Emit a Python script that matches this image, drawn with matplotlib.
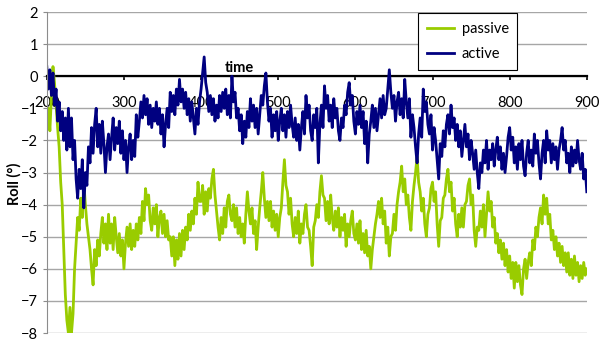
#!/usr/bin/env python3
# -*- coding: utf-8 -*-
"""
Roll angle over time for the passive and active runs.
"""

import matplotlib
matplotlib.use('Agg')
import matplotlib.pyplot as PyPlot

# Sample times, one every 2 units
time = list(range(200, 901, 2))

passive = [
    -1.5, -1.0, -1.7, -0.6, 0.3, -0.2, -0.9, -1.6, -2.2, -3.3, -4.0, -5.4, -6.8, -7.6, -8.0, -7.2, -8.0, -7.4, -6.0, -5.2,
    -4.4, -4.8, -3.8, -4.4, -3.3, -4.0, -4.6, -5.0, -5.4, -6.0, -6.5, -5.4, -5.9, -5.1, -5.6, -4.9, -4.4, -5.2, -4.6, -5.4,
    -4.3, -5.2, -4.6, -5.4, -4.4, -5.0, -5.5, -4.9, -5.6, -5.1, -6.0, -5.2, -4.7, -5.3, -4.6, -5.4, -4.8, -5.3, -4.6, -5.1,
    -4.4, -4.9, -3.9, -4.5, -3.5, -4.0, -3.7, -4.5, -4.8, -4.1, -4.6, -4.0, -5.0, -4.4, -4.2, -4.9, -4.3, -5.0, -4.5, -5.1,
    -5.0, -5.6, -5.0, -5.9, -5.1, -5.7, -4.9, -5.6, -4.8, -5.4, -4.7, -5.1, -4.3, -4.8, -4.2, -4.6, -3.8, -4.3, -3.3, -3.9,
    -3.9, -3.4, -4.3, -3.6, -4.2, -3.5, -3.8, -3.2, -2.9, -3.7, -4.2, -4.7, -5.1, -4.4, -4.9, -4.1, -4.7, -3.9, -3.7, -4.3,
    -4.5, -4.0, -4.7, -4.1, -4.9, -4.4, -5.0, -4.6, -5.2, -4.3, -3.6, -4.2, -4.6, -4.1, -4.9, -4.5, -5.4, -4.7, -4.1, -3.6,
    -3.0, -3.8, -4.4, -3.9, -4.5, -3.9, -4.7, -4.2, -4.8, -4.3, -5.0, -4.4, -4.1, -3.3, -2.6, -3.4, -3.6, -4.3, -3.8, -4.6,
    -5.0, -4.4, -4.9, -4.2, -5.2, -4.6, -4.9, -4.3, -4.0, -4.7, -4.8, -5.3, -5.9, -4.7, -4.5, -4.0, -4.4, -3.6, -3.1, -3.7,
    -3.8, -4.5, -3.9, -4.6, -3.7, -4.4, -4.8, -4.2, -4.7, -4.1, -5.0, -4.4, -4.8, -4.3, -5.3, -4.6, -5.0, -4.5, -4.2, -4.9,
    -5.1, -4.6, -5.2, -4.5, -5.4, -4.9, -5.5, -4.8, -5.6, -5.3, -6.0, -5.4, -5.0, -4.6, -4.3, -3.9, -4.4, -3.8, -4.6, -4.2,
    -5.2, -4.7, -5.6, -5.0, -4.9, -4.3, -4.8, -4.0, -3.6, -3.3, -2.8, -3.6, -3.2, -4.0, -3.7, -4.4, -4.8, -3.9, -3.4, -3.0,
    -2.5, -3.3, -3.6, -4.2, -3.8, -4.6, -5.0, -4.3, -4.1, -3.5, -3.3, -3.9, -3.6, -4.6, -5.3, -4.5, -4.4, -3.8, -3.7, -3.2,
    -2.9, -3.6, -3.3, -4.2, -3.8, -4.6, -5.0, -4.3, -4.7, -4.1, -4.7, -4.0, -3.9, -3.4, -3.2, -4.0, -3.7, -4.8, -5.3, -4.7,
    -4.8, -4.2, -4.7, -4.0, -5.0, -4.3, -3.6, -4.2, -3.9, -4.7, -4.4, -5.2, -4.9, -5.5, -5.1, -5.7, -5.2, -5.9, -5.4, -6.1,
    -5.6, -6.3, -5.8, -6.6, -5.8, -6.4, -5.9, -6.5, -6.8, -6.0, -5.7, -6.3, -5.8, -5.5, -5.9, -5.1, -5.4, -4.7, -5.0, -4.4,
    -4.1, -4.6, -3.7, -4.3, -3.8, -4.6, -4.3, -5.1, -4.8, -5.4, -5.0, -5.6, -5.2, -5.8, -5.3, -5.9, -5.5, -6.1, -5.5, -6.2,
    -5.7, -6.3, -5.6, -6.2, -5.8, -6.4, -5.9, -6.3, -5.8, -6.2, -6.0,
]

active = [
    0.3, -0.4, 0.2, -0.6, 0.1, -0.9, -0.4, -1.4, -0.8, -1.7, -1.1, -2.0, -1.3, -2.3, -1.0, -2.2, -1.3, -2.6, -2.0, -3.2,
    -3.8, -2.9, -3.5, -2.6, -4.1, -3.0, -3.4, -2.2, -2.7, -1.6, -2.4, -1.5, -1.0, -2.2, -1.5, -2.4, -1.4, -2.1, -3.0, -2.2,
    -1.8, -2.6, -1.9, -1.3, -2.3, -1.6, -2.1, -1.4, -2.4, -1.7, -2.6, -2.0, -3.0, -2.2, -1.8, -2.6, -2.0, -2.5, -1.2, -1.9,
    -1.4, -0.8, -1.3, -0.6, -1.2, -0.7, -1.5, -0.9, -1.6, -1.0, -1.4, -0.8, -1.5, -1.0, -1.8, -1.2, -2.2, -1.5, -1.0, -1.6,
    -0.5, -1.1, -0.6, -1.2, -0.4, -0.9, -0.1, -0.8, -0.4, -1.0, -0.5, -1.2, -0.7, -1.4, -0.8, -1.3, -1.8, -1.0, -1.5, -0.8,
    -0.4, 0.1, 0.6, -0.2, -0.5, -1.1, -0.6, -1.2, -0.7, -1.4, -0.9, -1.3, -0.6, -1.1, -0.5, -1.0, -0.4, -1.2, -0.6, -1.3,
    0.0, -0.8, -0.5, -1.3, -1.0, -1.7, -1.2, -2.1, -1.4, -1.9, -1.1, -1.6, -0.7, -1.4, -0.9, -1.6, -1.0, -1.8, -1.2, -0.6,
    -0.9, -0.3, 0.1, -0.8, -1.4, -1.0, -1.9, -1.2, -1.7, -1.1, -2.0, -1.4, -1.0, -1.7, -1.2, -1.9, -1.1, -1.6, -0.9, -1.5,
    -1.9, -1.3, -2.0, -1.5, -2.3, -1.6, -1.1, -1.8, -0.6, -1.3, -0.9, -1.7, -2.0, -1.2, -1.6, -1.0, -2.7, -1.5, -0.9, -1.6,
    -0.3, -1.0, -0.6, -1.4, -0.9, -1.6, -0.7, -1.3, -1.0, -1.7, -2.0, -1.3, -1.6, -0.9, -1.2, -0.5, -0.2, -0.9, -0.6, -1.4,
    -1.8, -1.1, -1.5, -0.9, -1.6, -1.1, -2.1, -1.4, -2.7, -1.8, -1.4, -0.9, -1.6, -1.0, -1.7, -1.2, -0.7, -1.3, -0.6, -1.2,
    -1.0, -0.4, 0.2, -0.5, -1.0, -0.6, -1.4, -0.8, -0.5, -1.2, -0.7, -1.3, -0.1, -0.8, -1.3, -0.7, -1.9, -1.2, -1.6, -2.2,
    -2.7, -1.8, -1.3, -1.9, -0.4, -1.1, -0.8, -1.5, -1.8, -1.2, -2.3, -1.6, -2.0, -2.6, -3.2, -2.1, -2.5, -1.7, -2.2, -1.5,
    -1.2, -1.8, -0.9, -1.6, -1.3, -2.0, -1.5, -2.2, -1.7, -2.5, -2.0, -1.5, -2.2, -1.8, -2.6, -2.0, -2.4, -2.9, -2.3, -3.0,
    -3.5, -2.7, -3.0, -2.3, -2.7, -2.0, -2.9, -2.3, -2.6, -2.1, -2.8, -2.3, -1.9, -2.6, -2.2, -2.9, -2.4, -3.0, -2.5, -1.9,
    -1.6, -2.3, -1.9, -2.7, -2.2, -2.9, -2.1, -2.6, -2.0, -2.8, -3.1, -2.4, -2.0, -2.7, -2.3, -2.8, -1.8, -2.4, -2.0, -2.7,
    -3.2, -2.4, -2.0, -2.7, -1.7, -2.3, -2.0, -2.7, -2.1, -2.6, -2.2, -2.9, -2.3, -2.0, -1.6, -2.3, -2.0, -2.7, -2.4, -3.0,
    -2.2, -2.8, -2.3, -2.7, -2.0, -2.6, -2.9, -2.4, -3.2, -2.9, -3.6,
]

assert len(passive) == len(time) and len(active) == len(time)

xTicks = [200, 300, 400, 500, 600, 700, 800, 900]
yTicks = [2, 1, 0, -1, -2, -3, -4, -5, -6, -7, -8]

PyPlot.rcParams['font.family'] = ['Lato', 'DejaVu Sans']

figure = PyPlot.figure(figsize = (6.0, 3.43), dpi = 100)
axes = figure.add_axes([0.078, 0.029, 0.9, 0.936])

# Data series
axes.plot(time, passive, color = '#99CC00', linewidth = 2.0, label = 'passive')
axes.plot(time, active, color = '#000080', linewidth = 2.0, label = 'active')

# Axis ranges and grid
axes.set_xlim(200, 900)
axes.set_ylim(-8, 2)
axes.set_yticks(yTicks)
axes.set_xticks(xTicks)
axes.yaxis.grid(True, color = '#a6a6a6', linewidth = 1.0)
axes.set_axisbelow(True)

# Excel style axes: horizontal axis crossing at zero
axes.spines['top'].set_visible(False)
axes.spines['right'].set_visible(False)
axes.spines['left'].set_color('#8c8c8c')
axes.spines['bottom'].set_position(('data', 0))
axes.spines['bottom'].set_color('black')
axes.spines['bottom'].set_linewidth(1.6)
axes.spines['bottom'].set_zorder(1)
axes.tick_params(axis = 'x', direction = 'out', length = 3, width = 1.2,
                 pad = 11, labelsize = 10.5)
axes.tick_params(axis = 'y', direction = 'out', length = 3, color = '#8c8c8c',
                 labelsize = 10.5)

axes.text(450, 0.05, 'time', ha = 'center', va = 'bottom',
          fontsize = 10.5, fontweight = 'bold')
axes.set_ylabel('Roll (°)', fontsize = 10.5, fontweight = 'bold')
axes.yaxis.set_label_coords(-0.047, 0.465)

legend = axes.legend(loc = 'upper left', bbox_to_anchor = (0.687, 0.997),
                     borderaxespad = 0, fontsize = 10.5, fancybox = False,
                     framealpha = 1, edgecolor = 'black', handlelength = 1.9,
                     handletextpad = 0.5, borderpad = 0.6, labelspacing = 0.8)
legend.get_frame().set_linewidth(0.8)

figure.savefig('out.png', format = 'png')
